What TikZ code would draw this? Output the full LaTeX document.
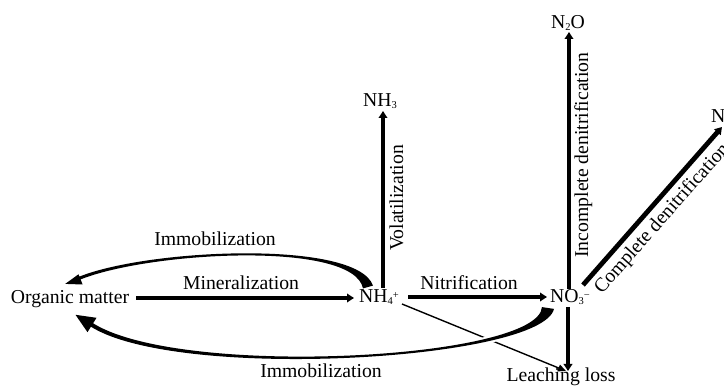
\documentclass[tikz,border=0pt]{standalone}
\usepackage{fontspec}
\setmainfont{Liberation Serif}
\usetikzlibrary{arrows.meta}
\newcommand\lowsub[1]{\raisebox{-0.15ex}{\fontsize{10.5}{10.5}\selectfont #1}}
\newcommand\highsup[1]{\raisebox{0.55ex}{\fontsize{10.5}{10.5}\selectfont #1}}
\begin{document}
\begin{tikzpicture}[x=1pt,y=-1pt,
  lbl/.style={font=\fontsize{19.7}{23}\selectfont, inner sep=0pt},
  flow/.style={line width=3.8pt, -{Triangle[length=7pt,width=8.5pt]}},
  thinflow/.style={line width=1.4pt, -{Triangle[length=8pt,width=7pt]}},
  taper/.style={fill=black},
  crossing/.style={preaction={draw=white,line width=4pt}}]
\useasboundingbox (0,0) rectangle (724,387);
% end points of connectors
\coordinate (minS) at (136,298); \coordinate (minE) at (354,298);
\coordinate (nitS) at (408,297); \coordinate (nitE) at (547,297);
\coordinate (volS) at (383,288); \coordinate (volE) at (383,111);
\coordinate (incS) at (569,289); \coordinate (incE) at (569,32);
\coordinate (comS) at (583,285); \coordinate (comE) at (722,127);
\coordinate (leaS) at (568,307); \coordinate (leaE) at (568,371);
\coordinate (ltS) at (402,304); \coordinate (ltE) at (566,371);
% straight flows
\draw[flow] (minS) -- (minE);
\draw[flow] (nitS) -- (nitE);
\draw[flow] (volS) -- (volE);
\draw[flow] (incS) -- (incE);
\draw[flow,line width=4.8pt] (comS) -- (comE);
\draw[flow,line width=3.2pt] (leaS) -- (leaE);
\draw[thinflow] (ltS) -- (ltE);
% upper immobilization (NH4+ -> organic matter), tapered
\path[taper] (373.0,285.6) .. controls (356.6,239.5) and (149.4,248.6) .. (79.4,276.6)
  -- (78.5,274.3) -- (65.2,283.9) -- (82.6,284.5) -- (80.6,279.4)
  .. controls (150.6,251.4) and (353.4,240.5) .. (363.0,288.4) -- cycle;
% lower immobilization (NO3- -> organic matter), tapered
\path[taper,crossing] (554.0,308.9) .. controls (541.8,360.3) and (178.9,381.7) .. (90.9,326.7)
  -- (87.5,332.2) -- (75.5,314.8) -- (96.5,317.8) -- (93.1,323.3)
  .. controls (181.1,378.3) and (538.2,359.7) .. (542.0,307.1) -- cycle;
% nodes
\node[lbl,anchor=base] (om) at (70,304) {Organic matter};
\node[lbl,anchor=base west] (nh4) at (359,303) {NH\lowsub{4}\highsup{+}};
\node[lbl,anchor=base west] (no3) at (550,303) {NO\lowsub{3}\highsup{−}};
\node[lbl,anchor=base] (nh3) at (380,107) {NH\lowsub{3}};
\node[lbl,anchor=base] (n2o) at (568,29) {N\lowsub{2}O};
\node[lbl,anchor=base west] (n2) at (711,123) {N\lowsub{2}};
\node[lbl,anchor=base] (leach) at (561,382) {Leaching loss};
% labels
\node[lbl,anchor=base] (lmin) at (241,290) {Mineralization};
\node[lbl,anchor=base] (lnit) at (469,290) {Nitrification};
\node[lbl,anchor=base] (limm1) at (215,246) {Immobilization};
\node[lbl,anchor=base] (limm2) at (321,378) {Immobilization};
\node[lbl,anchor=base,rotate=90] (lvol) at (403,198) {Volatilization};
\node[lbl,anchor=base,rotate=90] (linc) at (588,155) {Incomplete denitrification};
\node[lbl,anchor=base,rotate=48.5] (lcom) at (666,222) {Complete denitrification};
\end{tikzpicture}
\end{document}
